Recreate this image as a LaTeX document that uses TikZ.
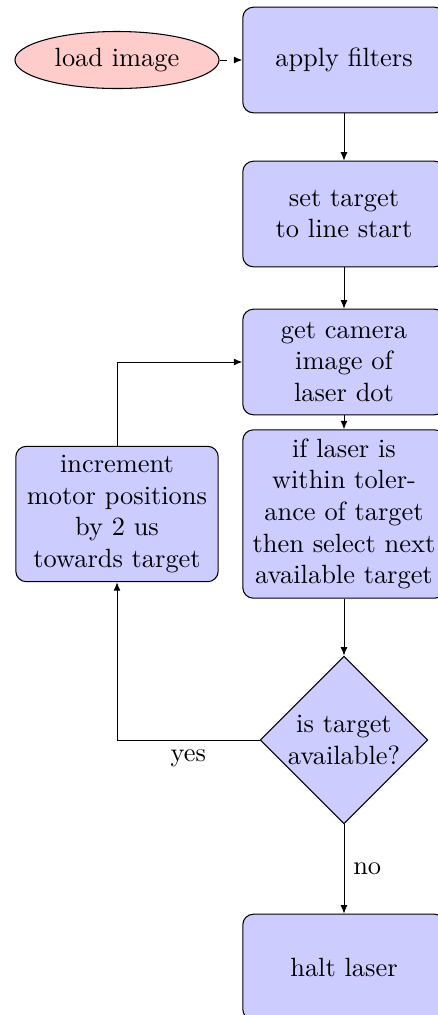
\documentclass[tikz,border=0pt]{standalone}
\usetikzlibrary{shapes.geometric,arrows.meta}
\begin{document}
\begin{tikzpicture}[x=0.3788pt,y=-0.3788pt,
  stepbox/.style={rectangle, draw, fill=blue!20, text width=7em, align=center,
    rounded corners, minimum height=4em},
  startnode/.style={ellipse, draw, fill=red!20, inner sep=0pt,
    minimum width=77.3pt, minimum height=21.6pt},
  decision/.style={diamond, draw, fill=blue!20, inner sep=0.6pt, aspect=1, align=center},
  flow/.style={draw, line width=0.35pt, -{Latex[length=3.2pt,width=2.6pt]}}]
  \useasboundingbox (0,0) rectangle (438,1015);

  % process steps
  \node[startnode] (load) at (117,60) {load image};
  \node[stepbox] (apply) at (344,60) {apply filters};
  \node[stepbox] (settarget) at (344,214) {set target\\to line start};
  \node[stepbox] (camera) at (344,362) {get camera\\image of\\laser dot};
  \node[stepbox] (check) at (344,514) {if laser is\\within toler-\\ance of target\\then select next\\available target};
  \node[stepbox] (incr) at (117,514) {increment\\motor positions\\by 2 us\\towards target};
  \node[decision] (avail) at (344,740) {is target\\available?};
  \node[stepbox] (halt) at (344,967) {halt laser};

  % connectors
  \draw[flow, dashed] (load) -- (apply);
  \draw[flow] (apply) -- (settarget);
  \draw[flow] (settarget) -- (camera);
  \draw[flow] (camera) -- (check);
  \draw[flow] (check) -- (avail);
  \draw[flow] (avail) -| node[pos=0.25, below] {yes} (incr);
  \draw[flow] (incr) |- (camera);
  \draw[flow] (avail) -- node[right] {no} (halt);
\end{tikzpicture}
\end{document}
